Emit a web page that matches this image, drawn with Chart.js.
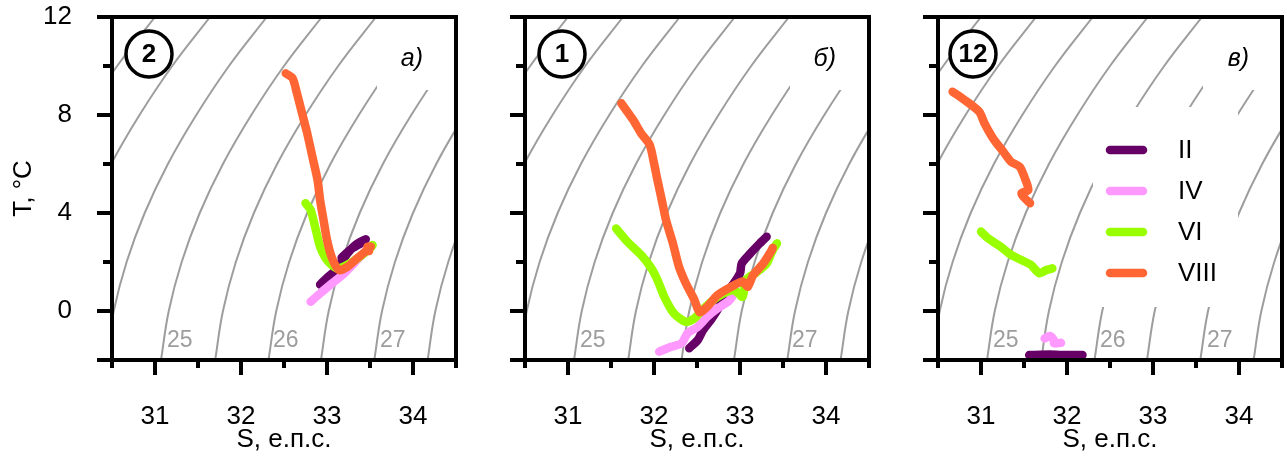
<!DOCTYPE html>
<html>
<head>
<meta charset="utf-8">
<script src="https://cdn.jsdelivr.net/npm/chart.js@4.4.1/dist/chart.umd.min.js"></script>
<style>
    html, body { margin: 0; padding: 0; background: #fff; overflow: hidden; }
    #wrap { position: relative; width: 1287px; height: 459px; }
    canvas { position: absolute; top: 0; }
</style>
</head>
<body>
<div id="wrap">
    <canvas id="panelA" width="460" height="459" style="left:0px"></canvas>
    <canvas id="panelB" width="460" height="459" style="left:413px"></canvas>
    <canvas id="panelC" width="460" height="459" style="left:826px"></canvas>
</div>
<script>
(function () {
    'use strict';

    // months
    const MONTHS = ['II', 'IV', 'VI', 'VIII'];
    const MONTH_COLORS = ['#660066', '#ff99ff', '#99ff00', '#ff6633'];

    // isopycnals (sigma-t): S read at T = -2, 0, 2 ... 12
    const ISO_T = [-2, 0, 2, 4, 6, 8, 10, 12];
    const ISO_235 = [29.13, 29.22, 29.37, 29.58, 29.85, 30.18, 30.56, 31.00];
    const ISO_240 = [29.77, 29.86, 30.01, 30.22, 30.49, 30.82, 31.20, 31.64];
    const ISO_245 = [30.43, 30.52, 30.67, 30.88, 31.15, 31.48, 31.86, 32.30];
    const ISO_250 = [31.07, 31.16, 31.31, 31.52, 31.79, 32.12, 32.50, 32.94];
    const ISO_255 = [31.70, 31.79, 31.94, 32.15, 32.42, 32.75, 33.13, 33.57];
    const ISO_260 = [32.32, 32.41, 32.56, 32.77, 33.04, 33.37, 33.75, 34.19];
    const ISO_265 = [32.93, 33.02, 33.17, 33.38, 33.65, 33.98, 34.36, 34.80];
    const ISO_270 = [33.55, 33.64, 33.79, 34.00, 34.27, 34.60, 34.98, 35.42];
    const ISO_275 = [34.17, 34.26, 34.41, 34.62, 34.89, 35.22, 35.60, 36.04];
    const ISO_LINES = [ISO_235, ISO_240, ISO_245, ISO_250, ISO_255, ISO_260, ISO_265, ISO_270, ISO_275];

    // panel a) station 2 — [S, T]
    const A_II = [[32.92, 1.08], [33.00, 1.35], [33.08, 1.60], [33.16, 1.98], [33.25, 2.40], [33.34, 2.72], [33.45, 2.93], [33.40, 2.78], [33.28, 2.52], [33.17, 2.18]];
    const A_IV = [[32.81, 0.38], [32.92, 0.72], [33.06, 1.13], [33.20, 1.54], [33.35, 2.08], [33.45, 2.45]];
    const A_VI = [[32.75, 4.40], [32.81, 4.12], [32.87, 3.31], [32.92, 2.62], [33.00, 2.08], [33.12, 1.74], [33.27, 1.95], [33.43, 2.35], [33.53, 2.69], [33.50, 2.55]];
    const A_VIII = [[32.52, 9.70], [32.60, 9.50], [32.65, 8.89], [32.71, 8.07], [32.77, 7.25], [32.83, 6.30], [32.89, 5.35], [32.92, 4.53], [32.96, 3.71], [33.00, 2.90], [33.06, 2.15], [33.14, 1.67], [33.24, 1.81], [33.35, 2.15], [33.47, 2.49], [33.51, 2.62], [33.47, 2.62], [33.49, 2.45]];

    // panel б) station 1
    const B_II = [[32.41, -1.52], [32.51, -1.18], [32.57, -0.78], [32.66, -0.37], [32.76, 0.18], [32.82, 0.72], [32.90, 1.00], [33.00, 1.54], [33.02, 1.94], [33.12, 2.35], [33.23, 2.76], [33.31, 3.03]];
    const B_IV = [[32.06, -1.66], [32.20, -1.46], [32.32, -1.32], [32.39, -0.91], [32.51, -0.64], [32.62, -0.23], [32.74, 0.11], [32.86, 0.38], [32.91, 0.58]];
    const B_VI = [[31.56, 3.37], [31.69, 2.83], [31.85, 2.29], [31.97, 1.74], [32.04, 1.27], [32.12, 0.58], [32.23, -0.09], [32.37, -0.44], [32.47, -0.30], [32.58, 0.11], [32.74, 0.58], [32.93, 0.86], [33.03, 0.58], [33.07, 1.27], [33.20, 1.60], [33.31, 1.94], [33.38, 2.49], [33.43, 2.76]];
    const B_VIII = [[31.62, 8.48], [31.69, 8.13], [31.77, 7.73], [31.85, 7.25], [31.95, 6.78], [32.00, 6.03], [32.04, 5.35], [32.09, 4.53], [32.14, 3.71], [32.22, 2.76], [32.29, 1.81], [32.37, 1.13], [32.47, 0.45], [32.53, -0.05], [32.62, 0.18], [32.74, 0.65], [32.90, 0.99], [33.03, 1.20], [33.09, 0.99], [33.15, 1.45], [33.27, 1.94], [33.37, 2.49], [33.38, 2.58]];

    // panel в) station 12
    const C_II = [[31.56, -1.80], [31.80, -1.78], [32.00, -1.80], [32.18, -1.80]];
    const C_IV = [[31.74, -1.12], [31.80, -1.02], [31.85, -1.20], [31.85, -1.32], [31.93, -1.30]];
    const C_VI = [[31.00, 3.24], [31.08, 2.97], [31.23, 2.62], [31.35, 2.29], [31.47, 2.08], [31.58, 1.88], [31.68, 1.54], [31.76, 1.67], [31.83, 1.74]];
    const C_VIII = [[30.67, 8.95], [30.81, 8.61], [30.98, 8.13], [31.04, 7.66], [31.14, 7.05], [31.26, 6.50], [31.35, 6.09], [31.45, 5.89], [31.51, 5.42], [31.55, 4.94], [31.47, 4.80], [31.51, 4.60], [31.57, 4.40]];

    const FONT = "'Liberation Sans', Arial, sans-serif";
    const textFont = { family: FONT, size: 26 };

    function toPoints(pairs) {
        return pairs.map((p) => ({ x: p[0], y: p[1] }));
    }

    function isoDatasets() {
        return ISO_LINES.map((line) => ({
            iso: true,
            data: line.map((s, i) => ({ x: s, y: ISO_T[i] })),
            borderColor: '#9d9d9d',
            borderWidth: 2,
            tension: 0.4,
            order: 10,
        }));
    }

    function monthDatasets(series) {
        return series.map((pairs, i) => ({
            label: MONTHS[i],
            data: toPoints(pairs),
            borderColor: MONTH_COLORS[i],
            borderWidth: 8.5,
            borderCapStyle: 'round',
            borderJoinStyle: 'round',
            tension: 0.25,
            order: 4 - i,
        }));
    }

    // no label padding from the scales: chart area is set by layout + afterFit
    function clearPadding(s) {
        s.paddingLeft = 0;
        s.paddingRight = 0;
        s.paddingTop = 0;
        s.paddingBottom = 0;
    }

    function drawWhiteBoxes(chart, opts) {
        const ctx = chart.ctx;
        const a = chart.chartArea;
        ctx.save();
        ctx.fillStyle = '#fff';
        ctx.fillRect(a.left + 265, a.top, a.right - a.left - 265, 73);
        if (opts.legend) {
            ctx.fillRect(a.left + 155, a.top + 90, 145, 200);
        }
        ctx.restore();
    }

    const panelDecor = {
        id: 'panelDecor',
        beforeDatasetsDraw(chart) {
            chart.$boxesDone = false;
        },
        beforeDatasetDraw(chart, args, opts) {
            const ds = chart.data.datasets[args.index];
            if (ds.iso || chart.$boxesDone) return;
            chart.$boxesDone = true;
            drawWhiteBoxes(chart, opts);
        },
        afterDatasetsDraw(chart, args, opts) {
            const ctx = chart.ctx;
            const a = chart.chartArea;
            const xs = chart.scales.x;
            const ys = chart.scales.y;
            ctx.save();

            // isopycnal labels
            ctx.fillStyle = '#9d9d9d';
            ctx.font = '23px ' + FONT;
            ctx.textAlign = 'left';
            ctx.textBaseline = 'alphabetic';
            opts.isoLabels.forEach((l) => ctx.fillText(l[0], a.left + l[1], a.top + 330));

            // station circle
            ctx.beginPath();
            ctx.arc(a.left + opts.circleX, a.top + 37, 23, 0, Math.PI * 2);
            ctx.fillStyle = '#fff';
            ctx.fill();
            ctx.lineWidth = 3.5;
            ctx.strokeStyle = '#000';
            ctx.stroke();
            ctx.fillStyle = '#000';
            ctx.font = 'bold 26px ' + FONT;
            ctx.textAlign = 'center';
            ctx.textBaseline = 'middle';
            ctx.fillText(opts.station, a.left + opts.circleX, a.top + 38);

            // panel letter
            ctx.font = 'italic 25px ' + FONT;
            ctx.textAlign = 'right';
            ctx.textBaseline = 'alphabetic';
            ctx.fillText(opts.letter, a.left + 311, a.top + 49);

            // legend
            if (opts.legend) {
                MONTHS.forEach((m, i) => {
                    const y = a.top + 133 + i * 41;
                    ctx.beginPath();
                    ctx.moveTo(a.left + 172, y);
                    ctx.lineTo(a.left + 205, y);
                    ctx.lineWidth = 8.5;
                    ctx.lineCap = 'round';
                    ctx.strokeStyle = MONTH_COLORS[i];
                    ctx.stroke();
                    ctx.fillStyle = '#000';
                    ctx.font = '26px ' + FONT;
                    ctx.textAlign = 'left';
                    ctx.textBaseline = 'middle';
                    ctx.fillText(m, a.left + 240, y + 1);
                });
            }

            // tick marks
            ctx.strokeStyle = '#000';
            ctx.lineWidth = 4;
            ctx.lineCap = 'butt';
            xs.ticks.forEach((t) => {
                const px = xs.getPixelForValue(t.value);
                const len = Number.isInteger(t.value) ? 15 : 8;
                ctx.beginPath();
                ctx.moveTo(px, a.bottom);
                ctx.lineTo(px, a.bottom + len);
                ctx.stroke();
            });
            ys.ticks.forEach((t) => {
                const py = ys.getPixelForValue(t.value);
                const len = (t.value % 4 === 0 || t.value === -2) ? 15 : 9;
                ctx.beginPath();
                ctx.moveTo(a.left, py);
                ctx.lineTo(a.left - len, py);
                ctx.stroke();
            });

            // frame
            ctx.lineWidth = 4;
            ctx.strokeRect(a.left, a.top, a.right - a.left, a.bottom - a.top);
            ctx.restore();
        },
    };

    function makePanel(id, series, deco, showY) {
        const canvas = document.getElementById(id);
        return new Chart(canvas, {
            type: 'line',
            data: { datasets: isoDatasets().concat(monthDatasets(series)) },
            options: {
                responsive: false,
                animation: false,
                devicePixelRatio: 1,
                events: [],
                layout: { autoPadding: false, padding: { top: 17, right: 4, left: 0, bottom: 0 } },
                elements: { point: { radius: 0 }, line: { capBezierPoints: false } },
                plugins: {
                    legend: { display: false },
                    tooltip: { enabled: false },
                    panelDecor: deco,
                },
                scales: {
                    x: {
                        type: 'linear',
                        min: 30.5,
                        max: 34.5,
                        afterFit: (s) => { s.height = 99; clearPadding(s); },
                        grid: { display: false },
                        border: { display: false },
                        ticks: {
                            stepSize: 0.5,
                            autoSkip: false,
                            maxRotation: 0,
                            padding: 33,
                            color: '#000',
                            font: textFont,
                            callback: (v) => (Number.isInteger(v) ? String(v) : ''),
                        },
                        title: {
                            display: true,
                            text: 'S, е.п.с.',
                            color: '#000',
                            font: textFont,
                            padding: { top: 0, bottom: 4 },
                        },
                    },
                    y: {
                        type: 'linear',
                        min: -2,
                        max: 12,
                        afterFit: (s) => { s.width = 112; clearPadding(s); },
                        grid: { display: false },
                        border: { display: false },
                        ticks: {
                            display: showY,
                            stepSize: 2,
                            autoSkip: false,
                            padding: 32,
                            color: '#000',
                            font: textFont,
                            callback: (v) => (v % 4 === 0 ? String(v) : ''),
                        },
                        title: {
                            display: showY,
                            text: 'T, °C',
                            color: '#000',
                            font: textFont,
                            padding: { top: 8, bottom: 0 },
                        },
                    },
                },
            },
            plugins: [panelDecor],
        });
    }

    document.addEventListener('DOMContentLoaded', function () {
        makePanel('panelA', [A_II, A_IV, A_VI, A_VIII],
            { station: '2', letter: 'а)', circleX: 37, legend: false, isoLabels: [['25', 55], ['26', 161], ['27', 268]] }, true);
        makePanel('panelB', [B_II, B_IV, B_VI, B_VIII],
            { station: '1', letter: 'б)', circleX: 37, legend: false, isoLabels: [['25', 55], ['27', 267]] }, false);
        makePanel('panelC', [C_II, C_IV, C_VI, C_VIII],
            { station: '12', letter: 'в)', circleX: 35, legend: true, isoLabels: [['25', 55], ['26', 162], ['27', 269]] }, false);
    });
})();
</script>
</body>
</html>
